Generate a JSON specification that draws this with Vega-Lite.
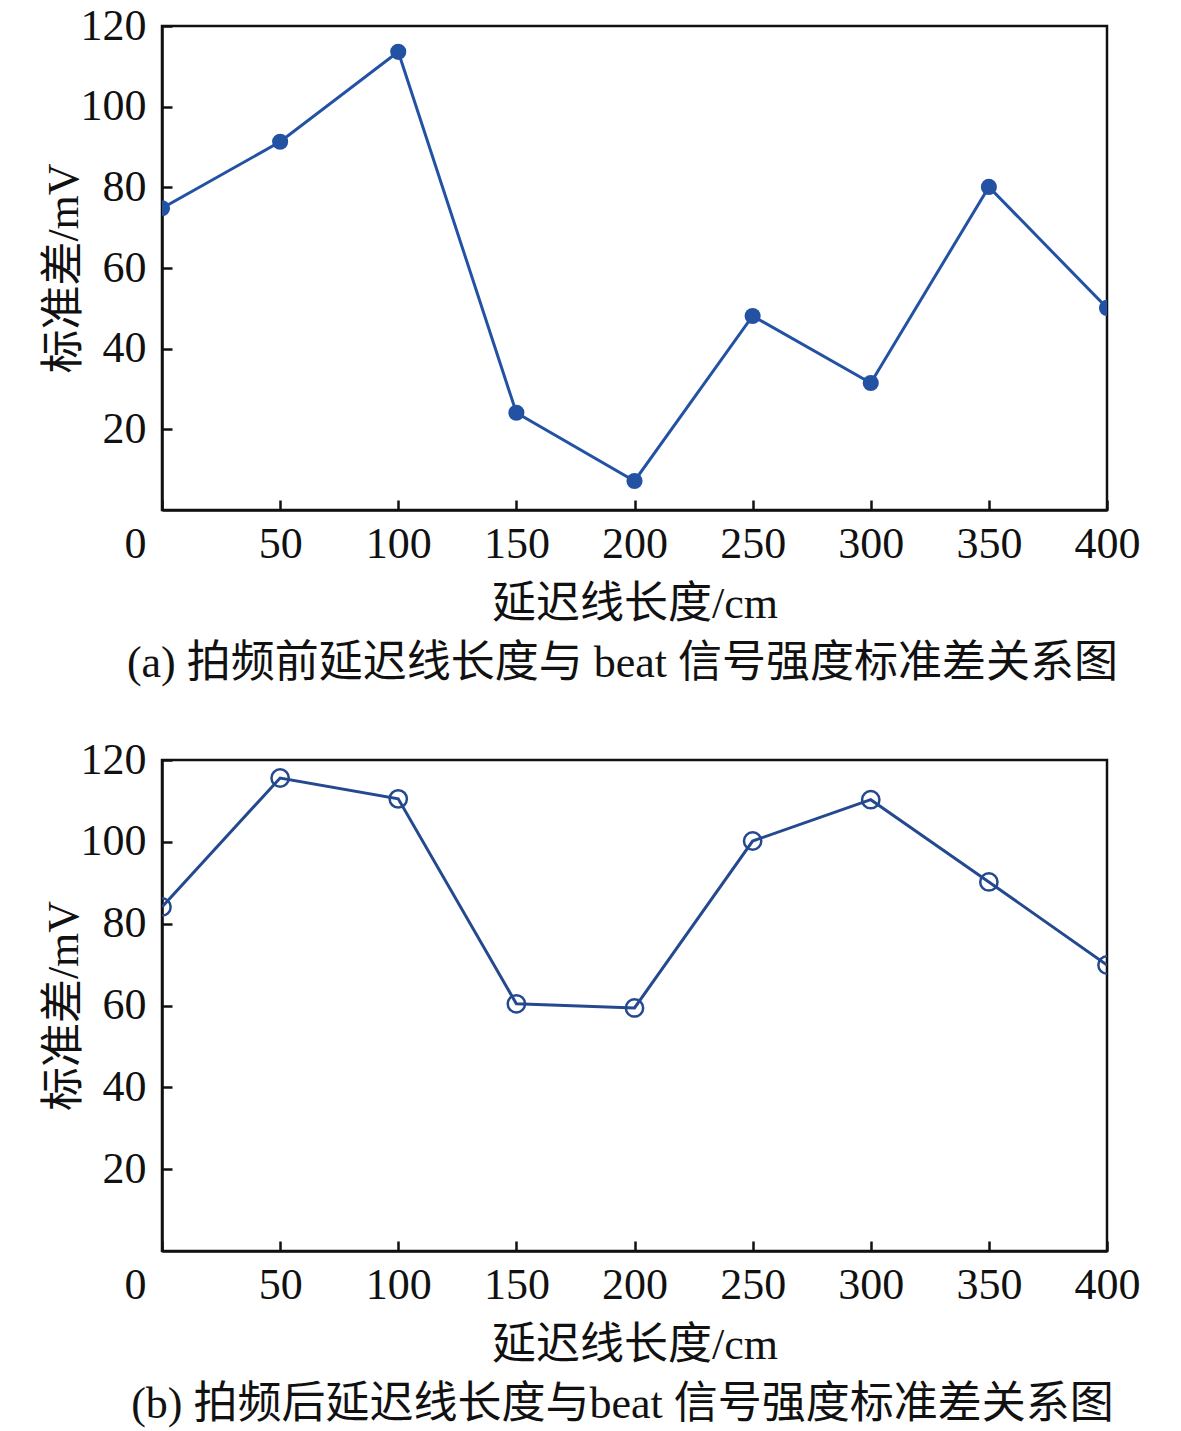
{
  "$schema": "https://vega.github.io/schema/vega-lite/v6.json",
  "padding": {"left": 40, "top": 2, "right": 20, "bottom": 10},
  "background": "white",
  "spacing": 48,
  "datasets": {
    "a": [
      {"len": 0, "std": 74.8},
      {"len": 50, "std": 91.3},
      {"len": 100, "std": 113.6},
      {"len": 150, "std": 24.1},
      {"len": 200, "std": 7.2},
      {"len": 250, "std": 48.1},
      {"len": 300, "std": 31.5},
      {"len": 350, "std": 80.1},
      {"len": 400, "std": 50.1}
    ],
    "b": [
      {"len": 0, "std": 84.1},
      {"len": 50, "std": 115.6},
      {"len": 100, "std": 110.5},
      {"len": 150, "std": 60.4},
      {"len": 200, "std": 59.4},
      {"len": 250, "std": 100.2},
      {"len": 300, "std": 110.3},
      {"len": 350, "std": 90.2},
      {"len": 400, "std": 69.9}
    ]
  },
  "config": {
    "font": "Liberation Serif, Noto Sans CJK SC",
    "view": {"stroke": "#111111", "strokeWidth": 2.5},
    "axis": {
      "domainColor": "#111111",
      "domainWidth": 2.5,
      "tickColor": "#111111",
      "tickWidth": 2.5,
      "ticks": true,
      "tickSize": -10,
      "zindex": 1,
      "grid": false,
      "labelFlush": false,
      "labelFont": "Liberation Serif",
      "labelFontSize": 44,
      "labelColor": "#111111",
      "titleFont": "Liberation Serif, Noto Sans CJK SC",
      "titleFontSize": 44,
      "titleFontWeight": "normal",
      "titleColor": "#111111"
    },
    "title": {
      "font": "Liberation Serif, Noto Sans CJK SC",
      "fontSize": 44,
      "fontWeight": "normal",
      "color": "#111111"
    }
  },
  "vconcat": [
    {
      "width": 945,
      "height": 484,
      "data": {"name": "a"},
      "title": {"text": "(a) 拍频前延迟线长度与 beat 信号强度标准差关系图", "orient": "bottom", "anchor": "middle", "dx": -12, "offset": 16},
      "encoding": {
        "x": {"field": "len", "type": "quantitative", "scale": {"domain": [0, 400], "nice": false},
          "axis": {"values": [0, 50, 100, 150, 200, 250, 300, 350, 400], "title": "延迟线长度/cm", "labelPadding": 22, "titlePadding": 16,
            "labelOffset": {"condition": {"test": "datum.value == 0", "value": -27}, "value": 0}}},
        "y": {"field": "std", "type": "quantitative", "scale": {"domain": [0, 120], "nice": false},
          "axis": {"values": [20, 40, 60, 80, 100, 120], "title": "标准差/mV", "labelPadding": 26, "titlePadding": -6}}
      },
      "layer": [
        {"mark": {"type": "line", "color": "#2352a3", "strokeWidth": 3, "clip": true}},
        {"mark": {"type": "point", "filled": true, "color": "#2352a3", "size": 260, "opacity": 1, "clip": true}}
      ]
    },
    {
      "width": 945,
      "height": 491,
      "data": {"name": "b"},
      "title": {"text": "(b) 拍频后延迟线长度与beat 信号强度标准差关系图", "orient": "bottom", "anchor": "middle", "dx": -12, "offset": 16},
      "encoding": {
        "x": {"field": "len", "type": "quantitative", "scale": {"domain": [0, 400], "nice": false},
          "axis": {"values": [0, 50, 100, 150, 200, 250, 300, 350, 400], "title": "延迟线长度/cm", "labelPadding": 22, "titlePadding": 16,
            "labelOffset": {"condition": {"test": "datum.value == 0", "value": -27}, "value": 0}}},
        "y": {"field": "std", "type": "quantitative", "scale": {"domain": [0, 120], "nice": false},
          "axis": {"values": [20, 40, 60, 80, 100, 120], "title": "标准差/mV", "labelPadding": 26, "titlePadding": -6}}
      },
      "layer": [
        {"mark": {"type": "line", "color": "#24498f", "strokeWidth": 3, "clip": true}},
        {"mark": {"type": "point", "filled": false, "color": "#24498f", "size": 300, "strokeWidth": 2.5, "opacity": 1, "clip": true}}
      ]
    }
  ]
}
